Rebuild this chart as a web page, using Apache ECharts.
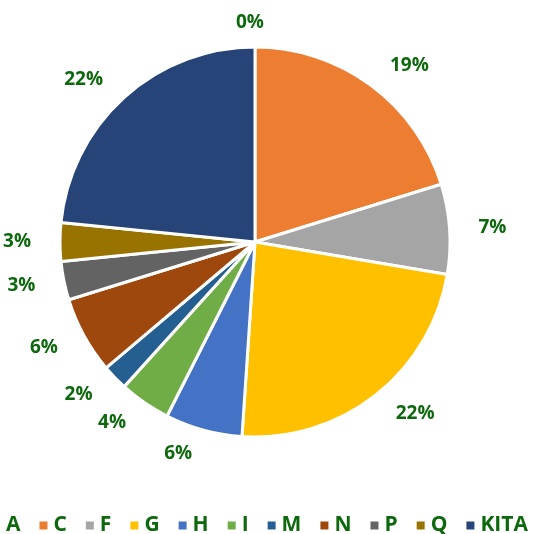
<!DOCTYPE html>
<html>
<head>
<meta charset="utf-8">
<script src="https://cdn.jsdelivr.net/npm/echarts@6/dist/echarts.min.js"></script>
<style>
  * { margin: 0; padding: 0; }
  body { background: #fff; }
</style>
</head>
<body>
<div id="main" style="width: 536px;height: 534px;background:#fff"></div>
<script>
// 类别与数值（单位 %）
var categories = ['A', 'C', 'F', 'G', 'H', 'I', 'M', 'N', 'P', 'Q', 'KITA'];
var values = [0, 19, 7, 22, 6, 4, 2, 6, 3, 3, 22];
var colors = ['#ffffff', '#ED7D31', '#A5A5A5', '#FFC000', '#4472C4', '#70AD47',
              '#255E91', '#9E480E', '#636363', '#997300', '#264478'];

var labelColor = '#0E690E';

var chart = echarts.init(document.getElementById('main'));

var pieData = categories.map(function (name, i) {
  return { name: name, value: values[i], itemStyle: { color: colors[i] } };
});

chart.setOption({
  animation: false,
  legend: {
    top: 515,
    left: -10,
    width: 560,
    padding: 0,
    itemWidth: 10,
    itemHeight: 10,
    itemGap: 17,
    icon: 'rect',
    textStyle: {
      color: labelColor,
      fontFamily: 'Open Sans',
      fontWeight: 'bold',
      fontSize: 21
    },
    data: categories
  },
  series: [
    {
      type: 'pie',
      center: [255, 242],
      radius: 195,
      startAngle: 90,
      clockwise: true,
      avoidLabelOverlap: false,
      stillShowZeroSum: true,
      itemStyle: {
        borderColor: '#fff',
        borderWidth: 3
      },
      label: {
        show: true,
        position: 'outside',
        formatter: '{c}%',
        color: labelColor,
        fontFamily: 'Open Sans',
        fontWeight: 'bold',
        fontSize: 19
      },
      labelLine: {
        show: false,
        length: 24,
        length2: 0
      },
      labelLayout: function (params) {
        // 顶部的 0% 居中
        if (params.dataIndex === 0) {
          return { align: 'center' };
        }
      },
      data: pieData
    }
  ]
});
</script>
</body>
</html>
